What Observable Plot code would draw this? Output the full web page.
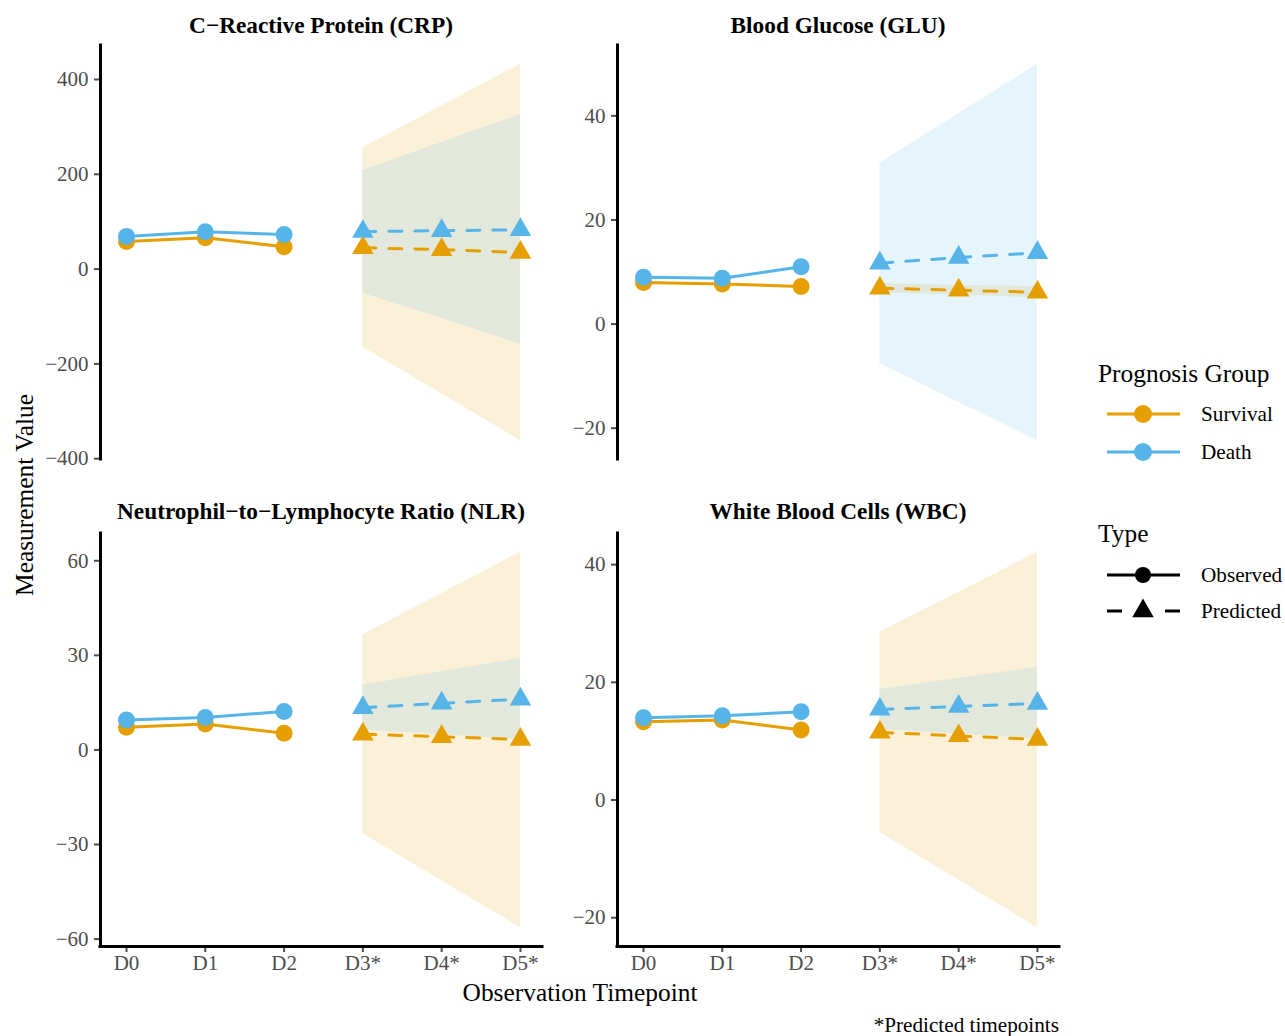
<!DOCTYPE html>
<html><head><meta charset="utf-8">
<script src="https://cdn.jsdelivr.net/npm/d3@7"></script>
<script src="https://cdn.jsdelivr.net/npm/@observablehq/plot@0.6"></script>
<style>
body{margin:0;background:#fff;font-family:"Liberation Serif","Times New Roman",serif;}
#root{position:relative;width:1285px;height:1036px;overflow:hidden;}
.abs{position:absolute;white-space:nowrap;}
.c{transform:translate(-50%,-50%);}
.title{font-weight:bold;font-size:23.3px;color:#000;}
.axt{font-size:25.4px;color:#000;}
.lt{font-size:25.4px;color:#000;}
.ll{font-size:21.2px;color:#000;}
</style></head><body><div id="root"></div>
<script>
// ---------------- data ----------------
const timepoints = ["D0","D1","D2","D3*","D4*","D5*"];
const observedPoints = ["D0","D1","D2"];
const predictedPoints = ["D3*","D4*","D5*"];
const groups = ["Survival","Death"];
const groupColors = ["#E69F00","#56B4E9"];
const markerTitles = ["C\u2212Reactive Protein (CRP)","Blood Glucose (GLU)","Neutrophil\u2212to\u2212Lymphocyte Ratio (NLR)","White Blood Cells (WBC)"];
const yTicks = [[-400,-200,0,200,400],[-20,0,20,40],[-60,-30,0,30,60],[-20,0,20,40]];
// rows: CRP, GLU, NLR, WBC
const survivalObserved = [[58,66,47],[8.0,7.7,7.2],[7.2,8.2,5.3],[13.3,13.6,11.9]];
const deathObserved    = [[69,79,73],[9.0,8.8,11.0],[9.5,10.3,12.2],[14.0,14.3,15.0]];
const survivalPredicted = [[45,41,35],[6.9,6.5,6.1],[5.0,4.2,3.3],[11.5,10.9,10.3]];
const deathPredicted    = [[79,81,83],[11.7,12.8,13.7],[13.4,14.8,16.1],[15.4,15.9,16.4]];
const survivalLower = [[-165,-263,-362],[6.0,5.6,5.0],[-26.6,-41.5,-56.4],[-5.5,-13.6,-21.7]];
const survivalUpper = [[256,344,432],[7.8,7.4,7.2],[36.5,49.6,62.7],[28.5,35.3,42.1]];
const deathLower = [[-51,-104,-158],[-7.6,-15.0,-22.4],[6.3,4.8,3.2],[12.0,11.2,10.4]];
const deathUpper = [[208,267,326],[30.9,40.4,49.9],[20.5,24.8,29.1],[18.8,20.7,22.5]];

// ---------------- layout ----------------
const root = document.getElementById("root");
const panelPos = [{left:40,top:40},{left:557,top:40},{left:40,top:528},{left:557,top:528}];
const xDomain = [-0.33, 5.28];

function buildPanel(i){
  const bottom = i >= 2;
  const obs = [], pred = [], band = [];
  groups.forEach((g, gi) => {
    const o = gi === 0 ? survivalObserved[i] : deathObserved[i];
    const p = gi === 0 ? survivalPredicted[i] : deathPredicted[i];
    const lo = gi === 0 ? survivalLower[i] : deathLower[i];
    const hi = gi === 0 ? survivalUpper[i] : deathUpper[i];
    observedPoints.forEach((t, k) => obs.push({group:g, x:timepoints.indexOf(t), value:o[k]}));
    predictedPoints.forEach((t, k) => {
      pred.push({group:g, x:timepoints.indexOf(t), value:p[k]});
      band.push({group:g, x:timepoints.indexOf(t), low:lo[k], high:hi[k]});
    });
  });
  const allVals = band.flatMap(d => [d.low, d.high]).concat(obs.map(d => d.value), pred.map(d => d.value));
  const [mn, mx] = d3.extent(allVals);
  const pad = (mx - mn) * 0.05;
  const yDomain = [mn - pad, mx + pad];
  const marks = [
    Plot.areaY(band, {x:"x", y1:"low", y2:"high", z:"group", fill:"group", fillOpacity:0.15}),
    Plot.axisY({ticks:yTicks[i], tickSize:6, tickPadding:6, fontSize:21, color:"#4d4d4d", strokeWidth:2, label:null}),
    Plot.ruleX([xDomain[0]], {stroke:"black", strokeWidth:3, strokeLinecap:"square"}),
    Plot.line(obs, {x:"x", y:"value", z:"group", stroke:"group", strokeWidth:3}),
    Plot.line(pred, {x:"x", y:"value", z:"group", stroke:"group", strokeWidth:3, strokeDasharray:"13,13"}),
    Plot.dot(obs, {x:"x", y:"value", fill:"group", r:8.5, symbol:"circle"}),
    Plot.dot(pred, {x:"x", y:"value", fill:"group", r:8, symbol:"triangle"})
  ];
  if (bottom) {
    marks.push(Plot.axisX({ticks:d3.range(timepoints.length), tickFormat:k => timepoints[k], tickSize:6, tickPadding:3, fontSize:21, color:"#4d4d4d", strokeWidth:2, label:null}));
    marks.push(Plot.ruleY([yDomain[0]], {stroke:"black", strokeWidth:3, strokeLinecap:"square"}));
  }
  const xOpts = {domain:xDomain};
  if (!bottom) xOpts.axis = null;
  const svg = Plot.plot({
    width:507, height: bottom ? 458 : 424,
    marginLeft:60, marginRight:5, marginTop:5, marginBottom: bottom ? 40 : 5,
    x:xOpts, y:{domain:yDomain},
    color:{domain:groups, range:groupColors},
    style:{fontFamily:"'Liberation Serif','Times New Roman',serif", background:"transparent", overflow:"visible"},
    marks
  });
  svg.style.position = "absolute";
  svg.style.left = panelPos[i].left + "px";
  svg.style.top = panelPos[i].top + "px";
  root.appendChild(svg);
}
for (let i = 0; i < 4; i++) buildPanel(i);

function addText(txt, cls, x, y, extra){
  const d = document.createElement("div");
  d.className = "abs " + cls;
  d.textContent = txt;
  d.style.left = x + "px"; d.style.top = y + "px";
  if (extra) Object.assign(d.style, extra);
  root.appendChild(d);
  return d;
}
const titlePos = [[321,25],[838,25],[321,511],[838,511]];
markerTitles.forEach((t, i) => addText(t, "c title", titlePos[i][0], titlePos[i][1]));
addText("Observation Timepoint", "c axt", 580, 992);
addText("Measurement Value", "axt", 24, 495, {transform:"translate(-50%,-50%) rotate(-90deg)"});
addText("*Predicted timepoints", "ll", 1059, 1025, {transform:"translate(-100%,-50%)"});

// legend
addText("Prognosis Group", "lt", 1098, 373, {transform:"translateY(-50%)"});
addText("Type", "lt", 1098, 533, {transform:"translateY(-50%)"});
const ns = "http://www.w3.org/2000/svg";
const leg = document.createElementNS(ns, "svg");
leg.setAttribute("width", 100); leg.setAttribute("height", 260);
Object.assign(leg.style, {position:"absolute", left:"1100px", top:"390px"});
root.appendChild(leg);
function el(name, attrs){ const e = document.createElementNS(ns, name); for (const k in attrs) e.setAttribute(k, attrs[k]); leg.appendChild(e); return e; }
const legRows = [24, 62];
groups.forEach((g, gi) => {
  const y = legRows[gi];
  el("line", {x1:7, x2:80, y1:y, y2:y, stroke:groupColors[gi], "stroke-width":3});
  el("circle", {cx:43, cy:y, r:9, fill:groupColors[gi]});
  addText(g, "ll", 1201, 390 + y, {transform:"translateY(-50%)"});
});
const typeRows = [185, 221];
el("line", {x1:7, x2:80, y1:typeRows[0], y2:typeRows[0], stroke:"black", "stroke-width":3});
el("circle", {cx:43, cy:typeRows[0], r:8, fill:"black"});
el("line", {x1:7, x2:80, y1:typeRows[1], y2:typeRows[1], stroke:"black", "stroke-width":3, "stroke-dasharray":"15,43"});
el("path", {d:d3.symbol(d3.symbolTriangle, 200)(), transform:`translate(43,${typeRows[1]})`, fill:"black"});
addText("Observed", "ll", 1201, 390 + typeRows[0], {transform:"translateY(-50%)"});
addText("Predicted", "ll", 1201, 390 + typeRows[1], {transform:"translateY(-50%)"});
</script></body></html>
